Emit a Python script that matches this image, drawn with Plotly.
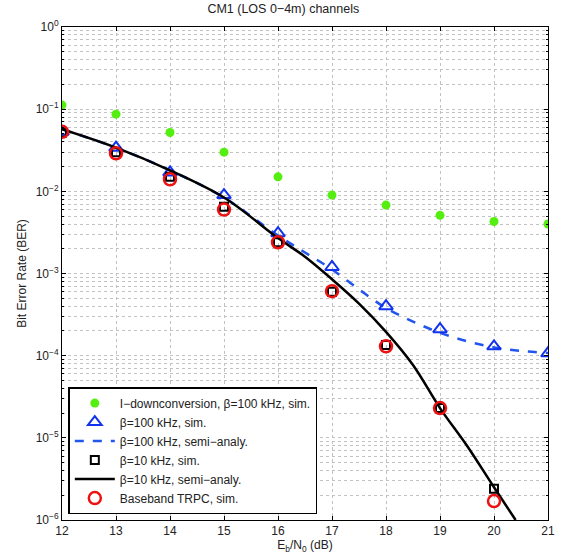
import plotly.graph_objects as go

x_sim = [12, 13, 14, 15, 16, 17, 18, 19, 20, 21]
ber_idown = [0.112, 0.087, 0.052, 0.030, 0.015, 0.0090, 0.0068, 0.0051, 0.0043, 0.0040]
ber_b100_sim = [0.053, 0.034, 0.017, 0.0090, 0.0031, 0.0012, 0.00040, 0.00021, 0.00013, 0.000107]
x_b100_ana = [12, 13, 14, 15, 16, 16.5, 17, 17.5, 18, 18.5, 19, 19.5, 20, 20.5, 21]
ber_b100_ana = [0.057, 0.034, 0.018, 0.0084, 0.0029, 0.0018, 0.00112, 0.00064, 0.00038, 0.00026, 0.00019, 0.000150, 0.000126, 0.000114, 0.000108]
x_b10_sim = [12, 13, 14, 15, 16, 17, 18, 19, 20]
ber_b10_sim = [0.052, 0.030, 0.015, 0.0065, 0.0024, 0.00060, 0.000135, 0.000023, 0.0000024]
x_b10_ana = [12, 13, 14, 15, 16, 16.5, 17, 17.5, 18, 18.5, 19, 19.5, 20, 20.4]
ber_b10_ana = [0.057, 0.034, 0.018, 0.0084, 0.0027, 0.0016, 0.00085, 0.00043, 0.000195, 0.000077, 0.000023, 0.0000080, 0.0000025, 0.000001]
x_trpc = [12, 13, 14, 15, 16, 17, 18, 19, 20]
ber_trpc = [0.053, 0.029, 0.014, 0.0060, 0.0024, 0.00061, 0.00013, 0.000023, 0.0000017]

ytick_vals = [1, 0.1, 0.01, 0.001, 1e-4, 1e-5, 1e-6]
ytick_text = ["10<sup>0</sup>", "10<sup>−1</sup>", "10<sup>−2</sup>", "10<sup>−3</sup>",
              "10<sup>−4</sup>", "10<sup>−5</sup>", "10<sup>−6</sup>"]
xtick_vals = list(range(12, 22))

fig = go.Figure()
fig.add_trace(go.Scatter(x=x_sim, y=ber_idown, mode="markers",
                         name="I−downconversion, β=100 kHz, sim.", legendrank=1,
                         marker=dict(symbol="circle", size=9, color="#55ee11", line=dict(width=0))))
fig.add_trace(go.Scatter(x=x_b100_ana, y=ber_b100_ana, mode="lines",
                         name="β=100 kHz, semi−analy.", legendrank=3,
                         line=dict(color="#2255ee", width=2.5, dash="dash", shape="spline")))
fig.add_trace(go.Scatter(x=x_sim, y=ber_b100_sim, mode="markers",
                         name="β=100 kHz, sim.", legendrank=2,
                         marker=dict(symbol="triangle-up-open", size=12, color="#1133ee", line=dict(width=2))))
fig.add_trace(go.Scatter(x=x_b10_ana, y=ber_b10_ana, mode="lines",
                         name="β=10 kHz, semi−analy.", legendrank=5,
                         line=dict(color="black", width=2.5, shape="spline")))
fig.add_trace(go.Scatter(x=x_b10_sim, y=ber_b10_sim, mode="markers",
                         name="β=10 kHz, sim.", legendrank=4,
                         marker=dict(symbol="square-open", size=8, color="black", line=dict(width=2))))
fig.add_trace(go.Scatter(x=x_trpc, y=ber_trpc, mode="markers",
                         name="Baseband TRPC, sim.", legendrank=6,
                         marker=dict(symbol="circle-open", size=12, color="#ee1111", line=dict(width=2.5))))

grid = "#c2c2c2"
fig.update_layout(
    width=561, height=559,
    margin=dict(l=62, r=13, t=27, b=39, autoexpand=False),
    paper_bgcolor="white", plot_bgcolor="white",
    font=dict(family="Liberation Sans, Arial, sans-serif", size=12, color="#222222"),
    title=dict(text="CM1 (LOS 0−4m) channels", x=0.505, xanchor="center", y=0.993, yanchor="top",
               font=dict(size=12.5)),
    showlegend=True,
    legend=dict(x=0.013, y=0.012, xanchor="left", yanchor="bottom",
                bordercolor="black", borderwidth=1.5, bgcolor="white",
                font=dict(size=12), itemwidth=40, tracegroupgap=0, traceorder="normal"),
)
fig.update_xaxes(
    range=[12, 21], tickvals=xtick_vals, ticks="inside", ticklen=4, tickcolor="black",
    showline=True, linecolor="black", linewidth=1, mirror="ticks", automargin=False,
    showgrid=True, gridcolor=grid, griddash="dot", gridwidth=1, zeroline=False,
    title=dict(text="E<sub>b</sub>/N<sub>0</sub> (dB)", standoff=3, font=dict(size=12)),
)
fig.update_yaxes(
    type="log", range=[-6, 0], tickvals=ytick_vals, ticktext=ytick_text,
    ticks="inside", ticklen=4, tickcolor="black", automargin=False,
    showline=True, linecolor="black", linewidth=1, mirror="ticks",
    showgrid=True, gridcolor=grid, griddash="dot", gridwidth=1, zeroline=False,
    minor=dict(dtick="D1", showgrid=True, gridcolor=grid, griddash="dot", gridwidth=1,
               ticks="inside", ticklen=2, tickcolor="black"),
    title=dict(text="Bit Error Rate (BER)", standoff=6, font=dict(size=12)),
)
fig.write_html("out.html", config={"displayModeBar": False},
               post_script="document.body.style.margin='0';")
